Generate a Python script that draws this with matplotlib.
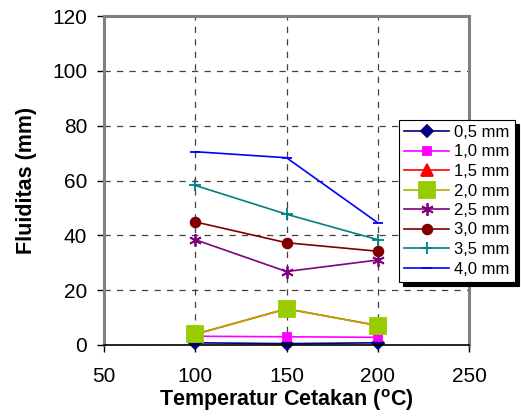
import matplotlib
matplotlib.use('Agg')
import matplotlib.pyplot as plt

plt.rcParams['font.family'] = ['Liberation Sans', 'DejaVu Sans']
plt.rcParams['mathtext.fontset'] = 'custom'
plt.rcParams['mathtext.bf'] = 'Liberation Sans:bold'
plt.rcParams['mathtext.rm'] = 'Liberation Sans'

# data
temperatures = [100, 150, 200]
labels = ['0,5 mm', '1,0 mm', '1,5 mm', '2,0 mm', '2,5 mm', '3,0 mm', '3,5 mm', '4,0 mm']
fluid_05 = [0.8, 0.5, 0.8]
fluid_10 = [3.2, 3.0, 2.8]
fluid_15 = [3.9, 13.2, 7.1]
fluid_20 = [3.9, 13.2, 7.1]
fluid_25 = [38.4, 26.8, 31.0]
fluid_30 = [44.9, 37.3, 34.2]
fluid_35 = [58.2, 47.7, 38.4]
fluid_40 = [70.5, 68.3, 44.6]

series = [fluid_05, fluid_10, fluid_15, fluid_20, fluid_25, fluid_30, fluid_35, fluid_40]
line_colors = ['#000080', '#FF00FF', '#FF0000', '#AAB000', '#800080', '#800000', '#008080', '#0000FF']
face_colors = ['#000080', '#FF00FF', '#FF0000', '#99CC00', '#800080', '#800000', '#008080', '#0000FF']
markers = ['D', 's', '^', 's', (6, 2, 0), 'o', '+', '_']
sizes = [6, 6, 9, 11, 9, 7, 9, 7]

fig = plt.figure(figsize=(5.21, 4.16), dpi=100)
ax = fig.add_axes([104 / 521, 1 - 345 / 416, 365 / 521, 329 / 416])

for vals, lab, lc, fc, m, s in zip(series, labels, line_colors, face_colors, markers, sizes):
    ax.plot(temperatures, vals, color=lc, marker=m, markersize=s, markerfacecolor=fc,
            markeredgecolor=fc, markeredgewidth=1.3, linewidth=1.2, label=lab, clip_on=False)

ax.set_xlim(50, 250)
ax.set_ylim(0, 120)
ax.set_xticks([50, 100, 150, 200, 250])
ax.set_yticks([0, 20, 40, 60, 80, 100, 120])
ax.tick_params(direction='out', length=5, width=1, labelsize=15, colors='black')
ax.tick_params(axis='x', pad=11)
ax.tick_params(axis='y', pad=7)
ax.grid(True, color='#404040', linestyle=(0, (5, 5)), linewidth=0.9)
ax.set_axisbelow(True)

for side in ['left', 'top', 'right']:
    ax.spines[side].set_color('#808080')
    ax.spines[side].set_linewidth(2.2)
ax.spines['bottom'].set_color('black')
ax.spines['bottom'].set_linewidth(1.2)

ax.set_xlabel(r'Temperatur Cetakan ($^{\mathbf{o}}$C)', fontsize=15.5, fontweight='bold', labelpad=0.5)
ax.set_ylabel('Fluiditas (mm)', fontsize=15.5, fontweight='bold', labelpad=11)

leg = ax.legend(loc='upper left', bbox_to_anchor=(399 / 521, 1 - 120 / 416),
                bbox_transform=fig.transFigure, borderaxespad=0, fontsize=12,
                fancybox=False, edgecolor='black', framealpha=1, handlelength=2.7,
                labelspacing=0.27, handletextpad=0.3, borderpad=0.3,
                shadow={'color': 'black', 'alpha': 1, 'ox': 3, 'oy': -3})
leg.get_frame().set_linewidth(0.8)

fig.savefig('out.png', dpi=100)
